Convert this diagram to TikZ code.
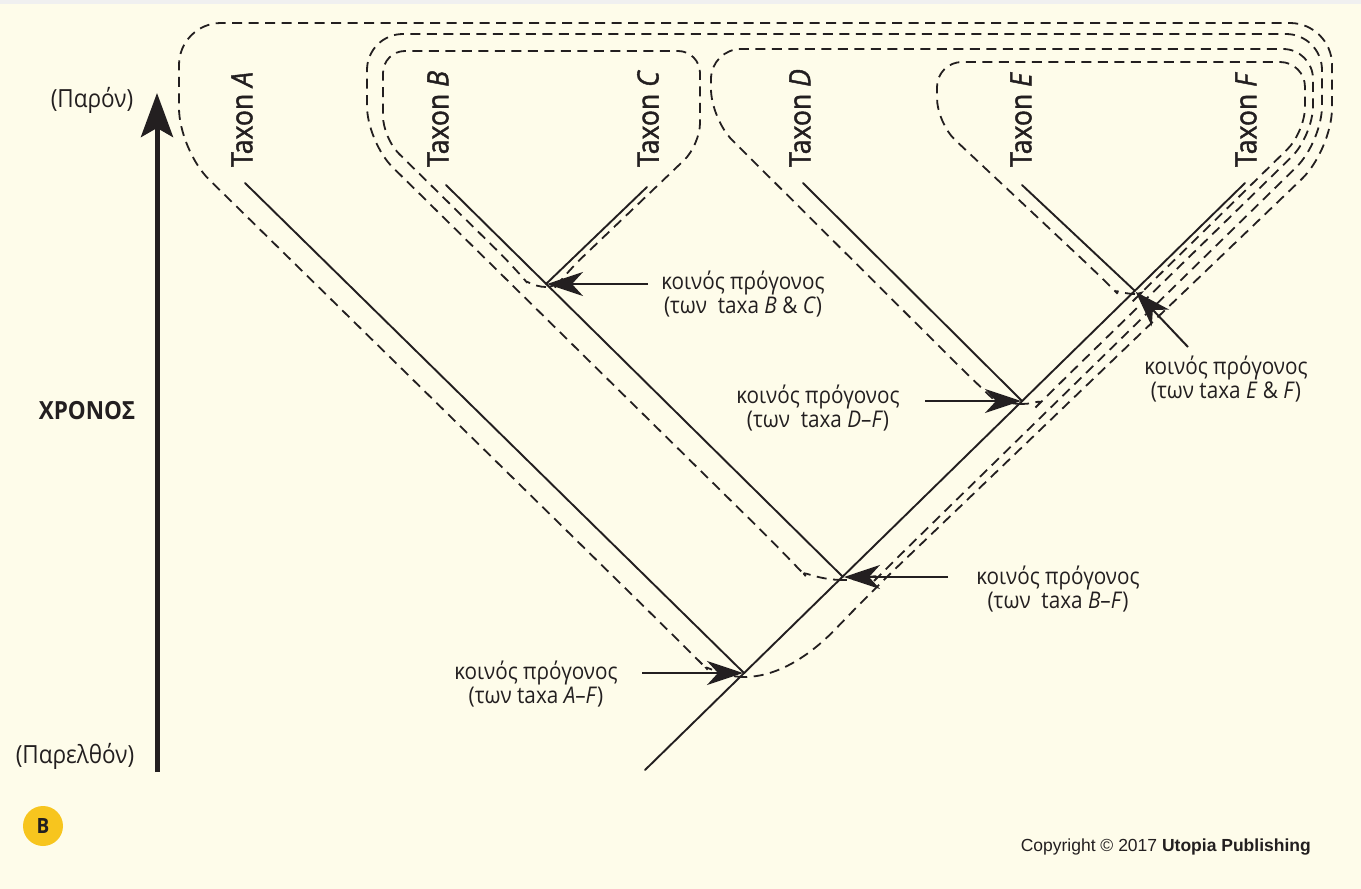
\documentclass[tikz,border=0pt]{standalone}
\usepackage{fontspec}
\setmainfont{Open Sans}[FakeStretch=0.9]
\newfontfamily\taxonfont{Open Sans}[FakeStretch=0.9,FakeBold=1.4]
\newfontfamily\copyfont{Liberation Sans}
\usepackage{xcolor}
\usepackage{tikz}
\usetikzlibrary{arrows.meta,calc}

\definecolor{paper}{RGB}{254,252,234}
\definecolor{badge}{RGB}{247,197,30}
\definecolor{ink}{RGB}{35,31,32}

\begin{document}
\begin{tikzpicture}[
    x=1pt, y=-1pt, color=ink,
    % solid lineages
    branch/.style={line width=1.9pt, line cap=round},
    % dashed outlines of the clades
    clade/.style={line width=1.8pt, dash pattern=on 10pt off 6.5pt},
    pointer/.style={line width=2pt, -{Stealth[length=36pt,width=24pt,inset=11pt]}, shorten >=1pt},
    timeline/.style={line width=5pt, -{Stealth[length=44pt,width=32pt,inset=9pt]}},
    taxon/.style={rotate=90, anchor=west, inner sep=0pt, font=\taxonfont\fontsize{29.5}{32}\selectfont},
    note/.style={align=center, inner sep=0pt, font=\fontsize{23}{24}\selectfont},
    axislabel/.style={inner sep=0pt, font=\fontsize{25}{28}\selectfont},
  ]
  \useasboundingbox (0,0) rectangle (1361,889);
  \fill[paper] (0,0) rectangle (1361,889);
  \fill[black!6] (0,0) rectangle (1361,4);

  % time axis
  \coordinate (past) at (157,772);
  \coordinate (now) at (157,93);
  \draw[timeline] (past) -- (now);
  \node[axislabel] (lNow) at (92,100) {(Παρόν)};
  \node[axislabel] (lPast) at (75,756) {(Παρελθόν)};
  \node[axislabel, font=\bfseries\fontsize{25}{28}\selectfont] (lTime) at (87,411) {ΧΡΟΝΟΣ};

  % tips, root and ancestors
  \coordinate (root) at (645,770);
  \coordinate (tA) at (245,183);
  \coordinate (tB) at (446,185);
  \coordinate (tC) at (647,187);
  \coordinate (tD) at (803,183);
  \coordinate (tE) at (1022,185);
  \coordinate (tF) at (1245,183);
  \coordinate (nAF) at (744,673);
  \coordinate (nBF) at (843,577);
  \coordinate (nBC) at (546,284);
  \coordinate (nDF) at (1022,401);
  \coordinate (nEF) at (1135,291);

  \draw[branch] (root) -- (tF);
  \draw[branch] (tA) -- (nAF);
  \draw[branch] (tB) -- (nBF);
  \draw[branch] (tC) -- (nBC);
  \draw[branch] (tD) -- (nDF);
  \draw[branch] (tE) -- (nEF);

  \node[taxon] (xA) at (242,167) {Taxon \textit{A}};
  \node[taxon] (xB) at (438,167) {Taxon \textit{B}};
  \node[taxon] (xC) at (648,167) {Taxon \textit{C}};
  \node[taxon] (xD) at (800,167) {Taxon \textit{D}};
  \node[taxon] (xE) at (1021,167) {Taxon \textit{E}};
  \node[taxon] (xF) at (1246,167) {Taxon \textit{F}};

  % clades A-F, B-F, B&C, D-F, E&F
  \draw[clade, rounded corners=42pt] (744,677) .. controls (720,677) and (700,662) .. (678,640)
    -- (179,150) -- (179,23) -- (1332,23) -- (1332,150) -- (868,595)
    .. controls (828,637) and (790,677) .. (744,677);
  \draw[clade, rounded corners=36pt] (843,580) .. controls (815,580) and (798,568) .. (781,550)
    -- (367,142) -- (367,34) -- (1322,34) -- (1322,142) -- (898,557)
    .. controls (885,570) and (868,580) .. (843,580);
  \draw[clade, rounded corners=22pt] (546,287) .. controls (534,287) and (524,279) .. (513,266)
    -- (383,138) -- (383,51) -- (700,51) -- (700,145) -- (567,272)
    .. controls (560,281) and (554,287) .. (546,287);
  \draw[clade, rounded corners=30pt] (1022,404) .. controls (1005,404) and (990,396) .. (973,380)
    -- (711,119) -- (711,49) -- (1313,49) -- (1313,136) -- (1055,388)
    .. controls (1047,396) and (1037,404) .. (1022,404);
  \draw[clade, rounded corners=25pt] (1135,294) .. controls (1122,294) and (1112,288) .. (1100,276)
    -- (937,123) -- (937,62) -- (1305,62) -- (1305,132) -- (1150,284)
    .. controls (1146,288) and (1142,294) .. (1135,294);

  % common ancestors
  \node[note] (lBC) at (743,294) {κοινός πρόγονος\\(των~~taxa \textit{B} \& \textit{C})};
  \node[note] (lDF) at (818,408) {κοινός πρόγονος\\(των~~taxa \textit{D}–\textit{F})};
  \node[note] (lBF) at (1058,589) {κοινός πρόγονος\\(των~~taxa \textit{B}–\textit{F})};
  \node[note] (lAF) at (536,684) {κοινός πρόγονος\\(των taxa \textit{A}–\textit{F})};
  \node[note] (lEF) at (1226,379) {κοινός πρόγονος\\(των taxa \textit{E} \& \textit{F})};

  \coordinate (sBC) at (648,284);
  \coordinate (sDF) at (925,401);
  \coordinate (sBF) at (948,577);
  \coordinate (sAF) at (642,673);
  \coordinate (sEF) at (1188,347);
  \draw[pointer] (sBC) -- (nBC);
  \draw[pointer] (sDF) -- (nDF);
  \draw[pointer] (sBF) -- (nBF);
  \draw[pointer] (sAF) -- (nAF);
  \draw[pointer] (sEF) -- (nEF);

  \node[circle, fill=badge, minimum size=40pt, inner sep=0pt, font=\bfseries\fontsize{21}{21}\selectfont] (badgeB) at (43,826) {B};
  \node[anchor=east, inner sep=0pt, font=\copyfont\fontsize{17.5}{20}\selectfont] (copy) at (1311,847) {Copyright © 2017 \textbf{Utopia Publishing}};
\end{tikzpicture}
\end{document}
